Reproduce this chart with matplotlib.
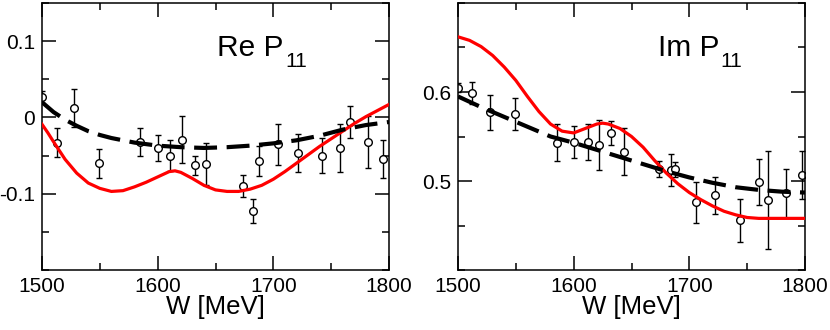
import matplotlib
matplotlib.use("Agg")
import matplotlib.pyplot as plt
from matplotlib.ticker import MultipleLocator

plt.rcParams['font.family'] = ['Liberation Sans', 'DejaVu Sans']

# ---------------- data: Re P11 ----------------
re_W = [1500, 1513, 1528, 1549, 1585, 1600, 1611, 1621, 1632, 1642,
        1673.5, 1682, 1688, 1704, 1721, 1742.5, 1758, 1766, 1782, 1795]
re_val = [0.027, -0.033, 0.012, -0.060, -0.032, -0.040, -0.050, -0.029, -0.063, -0.061,
          -0.090, -0.123, -0.057, -0.035, -0.047, -0.050, -0.040, -0.006, -0.032, -0.054]
re_err = [0.008, 0.019, 0.025, 0.019, 0.018, 0.017, 0.020, 0.031, 0.013, 0.027,
          0.014, 0.016, 0.020, 0.027, 0.025, 0.023, 0.032, 0.021, 0.034, 0.025]

re_red_W = [1500, 1505, 1510, 1520, 1530, 1540, 1550, 1560, 1570, 1580, 1590, 1600,
            1610, 1615, 1620, 1630, 1640, 1650, 1660, 1670, 1680, 1690, 1700, 1710,
            1720, 1730, 1740, 1750, 1760, 1770, 1780, 1790, 1800]
re_red = [-0.009, -0.020, -0.032, -0.055, -0.073, -0.086, -0.093, -0.097, -0.096, -0.091,
          -0.085, -0.078, -0.071, -0.070, -0.072, -0.080, -0.089, -0.095, -0.097, -0.097,
          -0.094, -0.089, -0.081, -0.071, -0.060, -0.049, -0.038, -0.028, -0.018, -0.008,
          0.001, 0.009, 0.017]

re_dash_W = [1500, 1510, 1520, 1530, 1540, 1550, 1560, 1570, 1580, 1590, 1600, 1620,
             1640, 1660, 1680, 1700, 1720, 1740, 1760, 1780, 1800]
re_dash = [0.020, 0.007, -0.003, -0.011, -0.018, -0.023, -0.027, -0.030, -0.033, -0.035,
           -0.037, -0.039, -0.040, -0.039, -0.037, -0.034, -0.030, -0.024, -0.016, -0.010,
           -0.006]

# ---------------- data: Im P11 ----------------
im_W = [1500, 1512.5, 1527.6, 1549, 1585.5, 1600, 1612, 1622, 1632.5, 1643.5,
        1674, 1684, 1688, 1705.8, 1722.6, 1744, 1760, 1768, 1784, 1797.7]
im_val = [0.605, 0.599, 0.577, 0.575, 0.543, 0.544, 0.544, 0.540, 0.554, 0.533,
          0.514, 0.512, 0.513, 0.476, 0.484, 0.456, 0.499, 0.479, 0.486, 0.507]
im_err = [0.005, 0.012, 0.020, 0.018, 0.021, 0.018, 0.020, 0.028, 0.013, 0.026,
          0.009, 0.018, 0.008, 0.023, 0.021, 0.024, 0.026, 0.055, 0.028, 0.027]

im_red_W = [1500, 1510, 1520, 1530, 1540, 1550, 1560, 1570, 1580, 1590, 1600, 1610,
            1620, 1625, 1630, 1640, 1650, 1660, 1670, 1680, 1690, 1700, 1710, 1720,
            1730, 1740, 1750, 1760, 1780, 1800]
im_red = [0.662, 0.658, 0.651, 0.641, 0.628, 0.613, 0.595, 0.578, 0.564, 0.556, 0.554,
          0.559, 0.564, 0.565, 0.564, 0.559, 0.550, 0.538, 0.523, 0.509, 0.497, 0.487,
          0.479, 0.472, 0.466, 0.462, 0.459, 0.458, 0.458, 0.458]

im_dash_W = [1500, 1520, 1540, 1560, 1580, 1600, 1620, 1640, 1660, 1680, 1700, 1720,
             1740, 1760, 1780, 1800]
im_dash = [0.595, 0.583, 0.572, 0.561, 0.550, 0.543, 0.535, 0.527, 0.519, 0.511, 0.504,
           0.498, 0.493, 0.490, 0.488, 0.487]

x_ticks = [1500, 1600, 1700, 1800]
re_yticks = [-0.1, 0.0, 0.1]
re_ylabels = ['-0.1', '0', '0.1']
im_yticks = [0.5, 0.6]
im_ylabels = ['0.5', '0.6']
xlabel = "W [MeV]"

fig = plt.figure(figsize=(8.3, 3.3), dpi=100)
axL = fig.add_axes([42/830, 60/330, 347/830, 267/330])
axR = fig.add_axes([458/830, 60/330, 347/830, 267/330])


def style(ax, ylim, yticks, ylabels):
    ax.set_xlim(1500, 1800)
    ax.set_ylim(*ylim)
    ax.set_xticks(x_ticks)
    ax.xaxis.set_minor_locator(MultipleLocator(50))
    ax.yaxis.set_minor_locator(MultipleLocator(0.05))
    ax.set_yticks(yticks)
    ax.set_yticklabels(ylabels)
    ax.tick_params(which='both', direction='in', top=True, right=True, width=1.1,
                   labelsize=15, pad=5)
    ax.tick_params(which='major', length=10)
    ax.tick_params(which='minor', length=5)
    for s in ax.spines.values():
        s.set_linewidth(1.1)
    ax.set_xlabel(xlabel, fontsize=18.5, labelpad=-1)


def draw(ax, W, v, e, rW, r, dW, d):
    ax.errorbar(W, v, yerr=e, fmt='o', mfc='white', mec='black', ms=5.5, mew=1.0,
                ecolor='black', elinewidth=1.0, capsize=2.5, capthick=1.0, zorder=2)
    ax.plot(rW, r, color='red', lw=2.3, zorder=3)
    ax.plot(dW, d, color='black', lw=3.0, dashes=(5.5, 2.3), zorder=4)


draw(axL, re_W, re_val, re_err, re_red_W, re_red, re_dash_W, re_dash)
draw(axR, im_W, im_val, im_err, im_red_W, im_red, im_dash_W, im_dash)

style(axL, (-0.2, 0.15), re_yticks, re_ylabels)
style(axR, (0.4, 0.7), im_yticks, im_ylabels)

axL.text(0.505, 0.80, "Re P", transform=axL.transAxes, fontsize=21.5, ha='left', va='baseline')
axL.text(0.700, 0.762, "11", transform=axL.transAxes, fontsize=15, ha='left', va='baseline')
axR.text(0.575, 0.80, "Im P", transform=axR.transAxes, fontsize=21.5, ha='left', va='baseline')
axR.text(0.755, 0.762, "11", transform=axR.transAxes, fontsize=15, ha='left', va='baseline')

fig.savefig("out.png", dpi=100)
